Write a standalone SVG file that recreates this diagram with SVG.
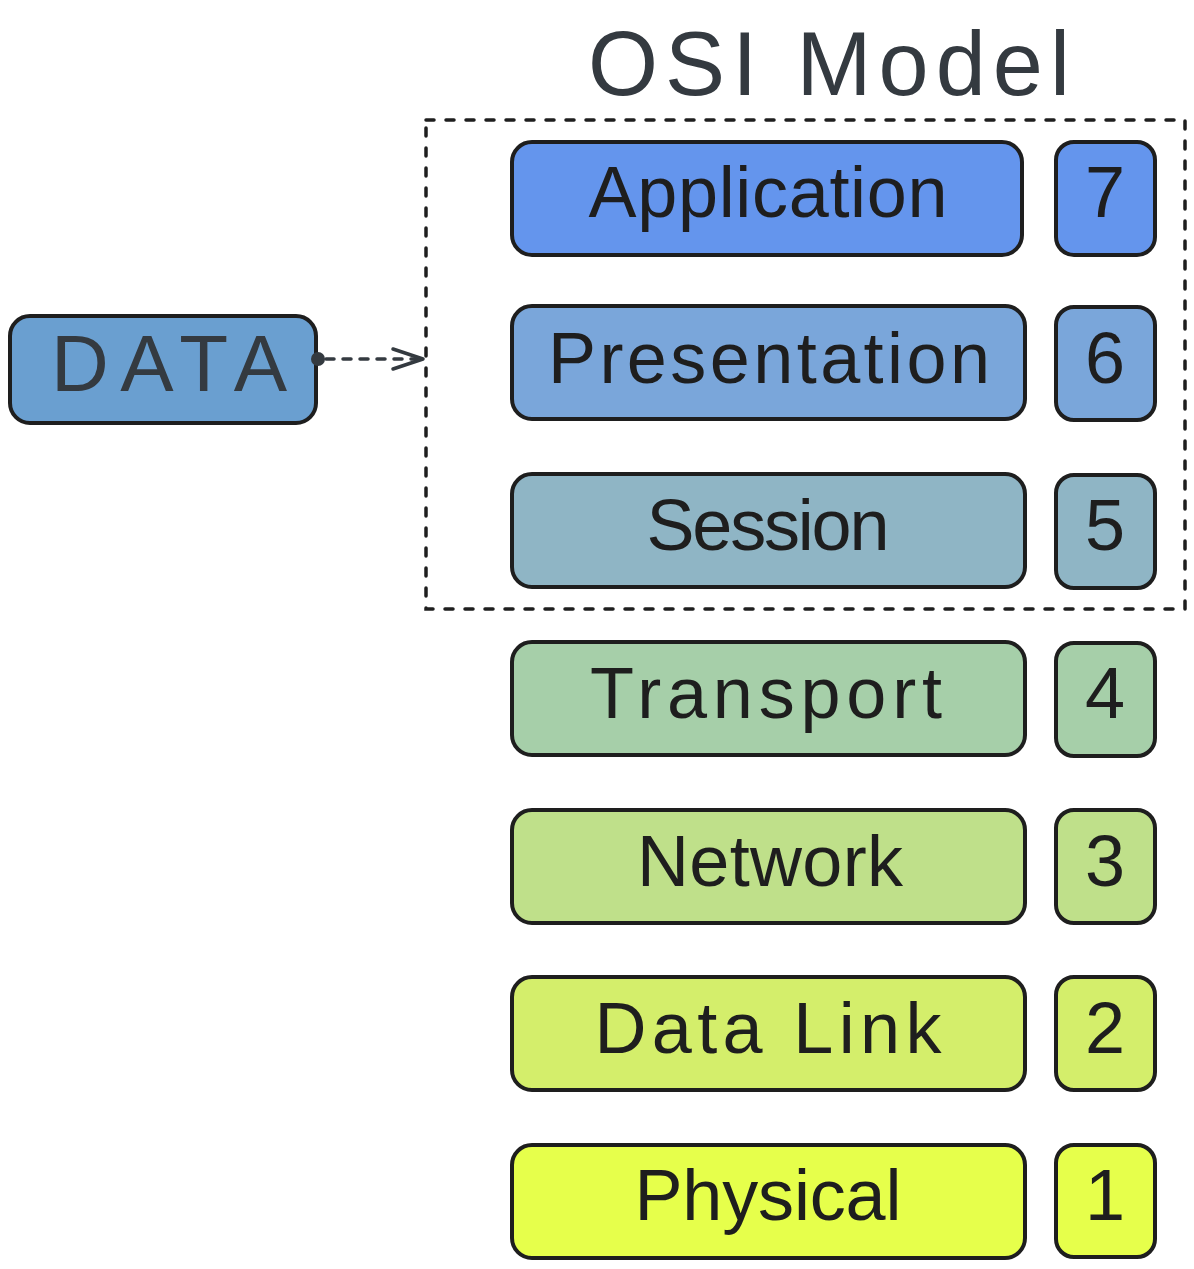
<svg xmlns="http://www.w3.org/2000/svg" width="1194" height="1269" viewBox="0 0 1194 1269">
<style>
.box{stroke:#1e1e1e;stroke-width:4}
.lbl{font-family:"Liberation Sans",Arial,sans-serif;font-size:72px;fill:#1e1e1e;text-anchor:middle}
.num{font-family:"Liberation Sans",Arial,sans-serif;font-size:72px;fill:#1e1e1e;text-anchor:middle}
</style>
<rect width="1194" height="1269" fill="#ffffff"/>
<text x="829" y="95" font-family="'Liberation Sans',Arial,sans-serif" font-size="90" fill="#343a40" textLength="482" lengthAdjust="spacing" text-anchor="middle">OSI Model</text>
<g id="frame">
<rect x="426" y="120" width="759" height="489" fill="none" stroke="#1e1e1e" stroke-width="3.5" stroke-dasharray="8 12" stroke-linecap="round"/>
</g>
<g id="data">
<rect class="box" x="10" y="316" width="306" height="107" rx="20" fill="#6a9fd0"/>
<text x="169" y="391" font-family="'Liberation Sans',Arial,sans-serif" font-size="80" fill="#343a40" text-anchor="middle" textLength="236" lengthAdjust="spacing">DATA</text>
</g>
<g id="connectors">
<circle cx="318" cy="359" r="7" fill="#343a40"/>
<line x1="326" y1="359" x2="420" y2="359" stroke="#343a40" stroke-width="3.5" stroke-dasharray="8 9" stroke-linecap="round"/>
<polyline points="393,349 423,359 393,369" fill="none" stroke="#343a40" stroke-width="3.5" stroke-linecap="round" stroke-linejoin="round"/>
</g>
<g id="application">
<rect class="box" x="512" y="142" width="510" height="113" rx="20" fill="#6495ed"/>
<text class="lbl" x="768" y="217" textLength="359" lengthAdjust="spacing">Application</text>
</g>
<g id="n7">
<rect class="box" x="1056" y="142" width="99" height="113" rx="18" fill="#6495ed"/>
<text class="num" x="1105" y="217">7</text>
</g>
<g id="presentation">
<rect class="box" x="512" y="306" width="513" height="113" rx="20" fill="#7aa6da"/>
<text class="lbl" x="769" y="383" textLength="442" lengthAdjust="spacing">Presentation</text>
</g>
<g id="n6">
<rect class="box" x="1056" y="307" width="99" height="113" rx="18" fill="#7aa6da"/>
<text class="num" x="1105" y="383">6</text>
</g>
<g id="session">
<rect class="box" x="512" y="474" width="513" height="113" rx="20" fill="#8fb5c5"/>
<text class="lbl" x="768" y="550" textLength="243" lengthAdjust="spacing">Session</text>
</g>
<g id="n5">
<rect class="box" x="1056" y="475" width="99" height="113" rx="18" fill="#8fb5c5"/>
<text class="num" x="1105" y="550">5</text>
</g>
<g id="transport">
<rect class="box" x="512" y="642" width="513" height="113" rx="20" fill="#a6cfa9"/>
<text class="lbl" x="766" y="718" textLength="352" lengthAdjust="spacing">Transport</text>
</g>
<g id="n4">
<rect class="box" x="1056" y="643" width="99" height="113" rx="18" fill="#a6cfa9"/>
<text class="num" x="1105" y="718">4</text>
</g>
<g id="network">
<rect class="box" x="512" y="810" width="513" height="113" rx="20" fill="#bfe08a"/>
<text class="lbl" x="770" y="886" textLength="266" lengthAdjust="spacing">Network</text>
</g>
<g id="n3">
<rect class="box" x="1056" y="810" width="99" height="113" rx="18" fill="#bfe08a"/>
<text class="num" x="1105" y="886">3</text>
</g>
<g id="datalink">
<rect class="box" x="512" y="977" width="513" height="113" rx="20" fill="#d4ee6b"/>
<text class="lbl" x="768" y="1053" textLength="347" lengthAdjust="spacing">Data Link</text>
</g>
<g id="n2">
<rect class="box" x="1056" y="977" width="99" height="113" rx="18" fill="#d4ee6b"/>
<text class="num" x="1105" y="1053">2</text>
</g>
<g id="physical">
<rect class="box" x="512" y="1145" width="513" height="113" rx="20" fill="#e6ff4b"/>
<text class="lbl" x="768" y="1220" textLength="267" lengthAdjust="spacing">Physical</text>
</g>
<g id="n1">
<rect class="box" x="1056" y="1145" width="99" height="112" rx="18" fill="#e6ff4b"/>
<text class="num" x="1105" y="1220">1</text>
</g>
</svg>
